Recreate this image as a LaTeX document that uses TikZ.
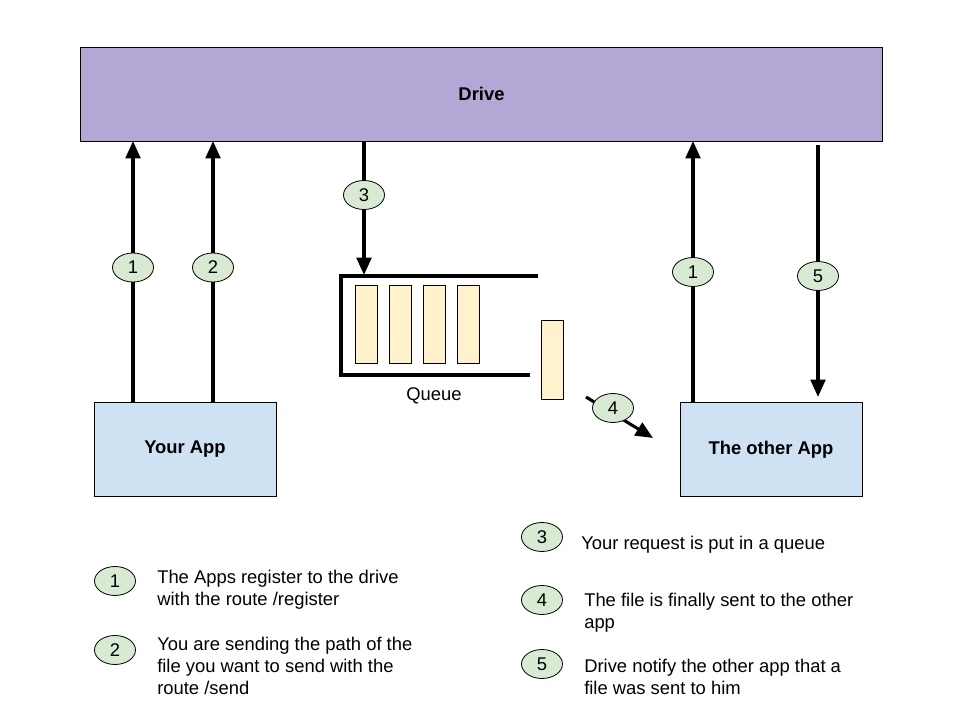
\documentclass[tikz,border=0pt]{standalone}
\usepackage{fontspec}
\setmainfont{Liberation Sans}
\usetikzlibrary{arrows.meta,shapes.geometric}
\definecolor{drivec}{HTML}{B4A7D6}
\definecolor{appc}{HTML}{CFE2F3}
\definecolor{tagc}{HTML}{D9EAD3}
\definecolor{itemc}{HTML}{FFF2CC}
\begin{document}
\begin{tikzpicture}[x=0.75pt,y=-0.75pt,
  box/.style={draw,line width=0.6pt,inner sep=0pt,font=\bfseries\fontsize{13.8}{16}\selectfont},
  tag/.style={ellipse,draw,line width=0.6pt,fill=tagc,minimum width=30.75pt,minimum height=21.75pt,inner sep=0pt,font=\fontsize{13.8}{16}\selectfont},
  item/.style={draw,line width=0.6pt,fill=itemc,minimum width=16.5pt,minimum height=59pt,inner sep=0pt},
  flow/.style={line width=2.3pt,-{Triangle[length=13pt,width=11pt]}},
  legend/.style={anchor=base west,align=left,inner sep=0pt,font=\fontsize{13.8}{16.5}\selectfont}]
\useasboundingbox (0,0) rectangle (960,720);
% main boxes
\node[box,fill=drivec,minimum width=602pt,minimum height=70.5pt] (drive) at (481.5,94) {Drive};
\node[box,fill=appc,minimum width=136.5pt,minimum height=71pt] (yourapp) at (185,449.5) {Your App};
\node[box,fill=appc,minimum width=136.5pt,minimum height=71pt] (otherapp) at (771,449.5) {The other App};
% anchor coordinates on boxes
\coordinate (ya1) at (133,402); \coordinate (d1) at (133,141);
\coordinate (ya2) at (213,402); \coordinate (d2) at (213,141);
\coordinate (d3) at (364,141); \coordinate (q3) at (364,275);
\coordinate (oa1) at (693,402); \coordinate (d4) at (693,141);
\coordinate (d5) at (818,145); \coordinate (oa5) at (818,397);
\coordinate (s4) at (586,397); \coordinate (e4) at (653,438);
% arrows
\draw[flow] (ya1) -- (d1);
\draw[flow] (ya2) -- (d2);
\draw[flow] (d3) -- (q3);
\draw[flow] (oa1) -- (d4);
\draw[flow] (d5) -- (oa5);
\draw[flow] (s4) -- (e4);
% tags on arrows
\node[tag] (t1) at (133,267.5) {1};
\node[tag] (t2) at (213,267.5) {2};
\node[tag] (t3) at (364,195) {3};
\node[tag] (t1b) at (693,272) {1};
\node[tag] (t5) at (818,276) {5};
\node[tag] (t4) at (613,408) {4};
% queue
\draw[line width=2.8pt] (538,276) -- (341,276) -- (341,375) -- (530,375);
\node[item] (i1) at (366,324.5) {};
\node[item] (i2) at (400,324.5) {};
\node[item] (i3) at (434,324.5) {};
\node[item] (i4) at (468,324.5) {};
\node[item] (i5) at (552.5,360) {};
\node[font=\fontsize{13.8}{16}\selectfont] (qlabel) at (434,396) {Queue};
% legend
\node[tag] (l1) at (115,581) {1};
\node[legend] (lt1) at (157,605) {The Apps register to the drive\\with the route /register};
\node[tag] (l2) at (115,650) {2};
\node[legend] (lt2) at (157,694) {You are sending the path of the\\file you want to send with the\\route /send};
\node[tag] (l3) at (542,537) {3};
\node[legend] (lt3) at (581,549) {Your request is put in a queue};
\node[tag] (l4) at (542,600) {4};
\node[legend] (lt4) at (584,628) {The file is finally sent to the other\\app};
\node[tag] (l5) at (542,664) {5};
\node[legend] (lt5) at (584,694) {Drive notify the other app that a\\file was sent to him};
\end{tikzpicture}
\end{document}
